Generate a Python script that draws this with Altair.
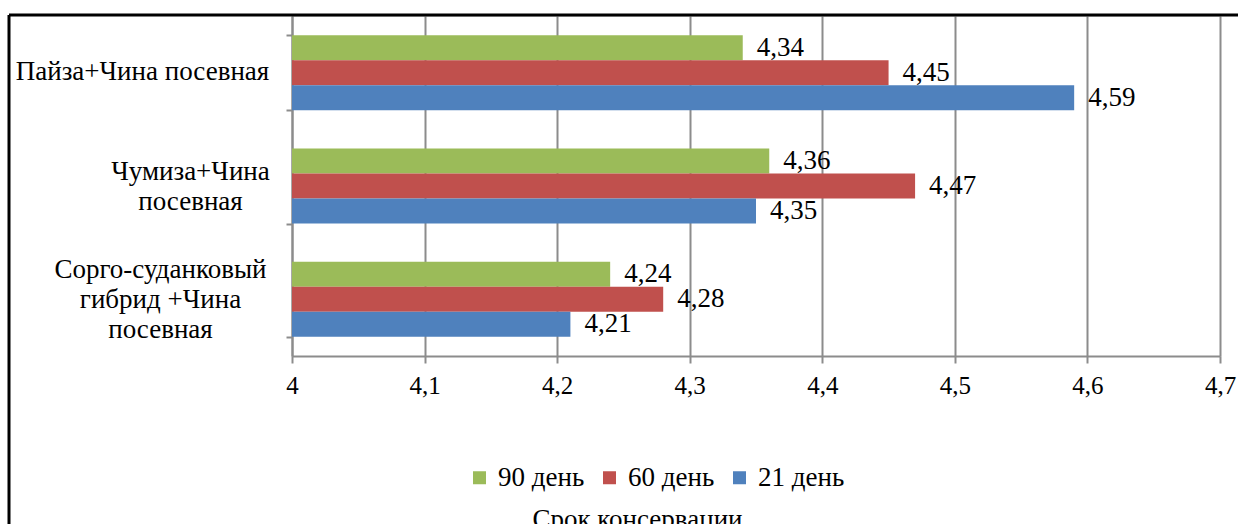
import altair as alt
import pandas as pd

# Crops (y categories, top to bottom); "\n" marks a line break in the axis label
crops = [
    "Пайза+Чина посевная",
    "Чумиза+Чина\nпосевная",
    "Сорго-суданковый\nгибрид +Чина\nпосевная",
]
periods = ["90 день", "60 день", "21 день"]
values_90 = [4.34, 4.36, 4.24]
values_60 = [4.45, 4.47, 4.28]
values_21 = [4.59, 4.35, 4.21]
period_colors = ["#9BBB59", "#C0504D", "#4F81BD"]
x_ticks = [4.0, 4.1, 4.2, 4.3, 4.4, 4.5, 4.6, 4.7]

FONT = "'Times New Roman', 'Liberation Serif', Tinos, serif"
GRAY = "#8C8C8C"

rows = []
for series, period in zip([values_90, values_60, values_21], periods):
    for crop, v in zip(crops, series):
        rows.append({"crop": crop, "period": period, "value": v})
df = pd.DataFrame(rows)

n_lines = r"length(split(datum.label, '\n'))"

base = alt.Chart(df).transform_calculate(
    label="replace(format(datum.value, '.2f'), '.', ',')"
).encode(
    y=alt.Y(
        "crop:N",
        sort=crops,
        title=None,
        scale=alt.Scale(paddingInner=0.338, paddingOuter=0.169),
        axis=alt.Axis(
            labelExpr=r"split(datum.label, '\n')",
            labelFont=FONT,
            labelFontSize=27,
            labelColor="black",
            labelLineHeight=30,
            labelAlign="center",
            # multi-line labels: lift the block so it is centred on its band,
            # and push each centred block so its right edge sits near the axis
            labelOffset={"condition": [
                {"test": f"{n_lines} == 2", "value": -15},
                {"test": f"{n_lines} == 3", "value": -30},
            ], "value": -1},
            labelPadding={"condition": [
                {"test": f"{n_lines} == 2", "value": 96},
                {"test": f"{n_lines} == 3", "value": 126},
            ], "value": 144},
            labelLimit=400,
            tickBand="extent",
            tickSize=6,
            tickColor=GRAY,
            tickWidth=2,
            domainColor=GRAY,
            domainWidth=2,
            grid=False,
        ),
    ),
    yOffset=alt.YOffset("period:N", sort=periods,
                        scale=alt.Scale(paddingInner=0, paddingOuter=0)),
    x=alt.X(
        "value:Q",
        scale=alt.Scale(domain=[4.0, 4.7], nice=False, zero=False),
        axis=alt.Axis(
            values=x_ticks,
            labelExpr="replace(format(datum.value, '~g'), '.', ',')",
            labelFont=FONT,
            labelFontSize=25,
            labelColor="black",
            labelPadding=10,
            labelFlush=False,
            tickSize=7,
            tickColor=GRAY,
            tickWidth=2,
            domainColor=GRAY,
            domainWidth=2,
            grid=True,
            gridColor=GRAY,
            gridWidth=2,
            title="Срок консервации",
            titleFont=FONT,
            titleFontSize=27,
            titleFontWeight="normal",
            titleColor="black",
            titleX=345,
            titleY=171,
            titleAlign="center",
            titleBaseline="alphabetic",
        ),
    ),
)

bars = base.mark_bar(clip=False).encode(
    x2=alt.datum(4.0),
    color=alt.Color(
        "period:N",
        sort=periods,
        scale=alt.Scale(domain=periods, range=period_colors),
        legend=alt.Legend(
            title=None,
            orient="none",
            direction="horizontal",
            legendX=174,
            legendY=448,
            padding=0,
            symbolType="square",
            symbolSize=169,
            symbolStrokeWidth=0,
            labelFont=FONT,
            labelFontSize=27,
            labelColor="black",
            labelOffset=5,
            columnPadding=11,
        ),
    ),
)

labels = base.mark_text(
    align="left", baseline="middle", dx=14, font=FONT, fontSize=27, color="black"
).encode(text="label:N")

# Outer frame of the chart (top and left edges)
frame_data = alt.Data(values=[{}])
frame_top = alt.Chart(frame_data).mark_rule(color="black", strokeWidth=3).encode(
    x=alt.value(-283), x2=alt.value(960), y=alt.value(-1)
)
frame_left = alt.Chart(frame_data).mark_rule(color="black", strokeWidth=3).encode(
    x=alt.value(-283), y=alt.value(-1), y2=alt.value(520)
)

chart = alt.layer(bars, labels, frame_top, frame_left).properties(
    width=928,
    height=340,
    padding={"left": 292, "top": 16, "right": 18, "bottom": 168},
    autosize=alt.AutoSizeParams(type="none"),
    background="white",
).configure_view(stroke=None).configure(font=FONT)

chart.save("out.html", embed_options={"renderer": "svg", "actions": False})
